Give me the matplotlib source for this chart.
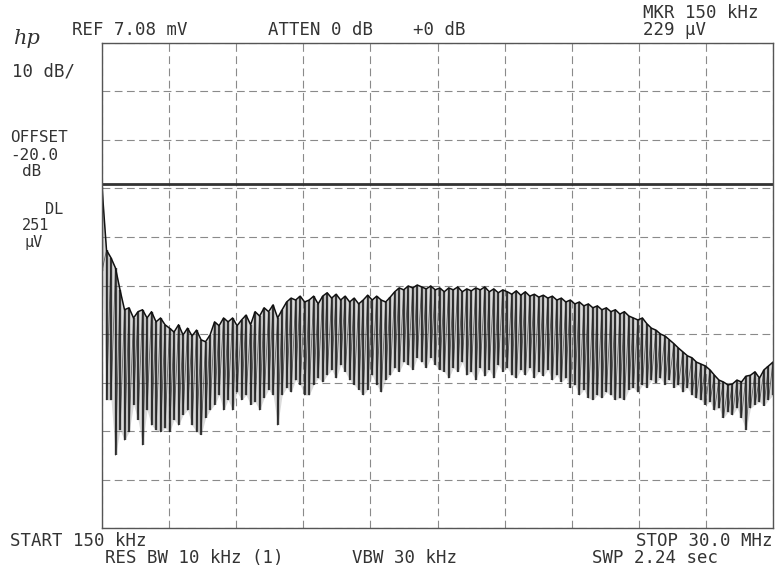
import numpy as np
import matplotlib
matplotlib.use("Agg")
import matplotlib.pyplot as plt

# sweep 150 kHz .. 30 MHz, 10 dB/div, ref 7.08 mV (77 dBuV)
f_start, f_stop = 0.15, 30.0
ref_level = 77.0
dl_level = 48.0  # 251 uV

# peak (top of each spike) and dip (bottom of each spike), dBuV
peak = [47.3, 34.3, 32.7, 30.6, 26.1, 22.0, 22.4, 20.3, 21.6, 22.0,
        20.3, 21.6, 19.5, 20.3, 18.9, 18.2, 17.4, 18.9, 16.8, 18.2,
        16.6, 17.8, 15.8, 15.4, 16.8, 19.5, 18.7, 20.3, 19.5, 20.3,
        18.7, 19.9, 20.9, 18.9, 21.6, 20.7, 22.4, 21.6, 23.0, 20.3,
        22.0, 23.6, 24.4, 24.0, 24.8, 23.6, 24.0, 24.8, 23.2, 24.8,
        25.5, 24.4, 25.2, 24.0, 24.8, 23.6, 24.4, 23.2, 24.0, 25.0,
        24.0, 24.8, 24.0, 23.6, 24.6, 25.7, 26.5, 26.1, 26.9, 26.5,
        27.1, 26.7, 26.3, 26.9, 26.1, 26.5, 25.7, 26.5, 26.1, 26.7,
        25.7, 26.3, 25.9, 26.5, 26.1, 26.7, 25.7, 26.3, 25.5, 26.1,
        25.7, 25.2, 25.9, 25.0, 25.7, 24.8, 25.2, 24.6, 25.0, 24.4,
        24.8, 24.0, 24.4, 23.6, 24.0, 23.2, 23.6, 22.8, 23.2, 22.4,
        22.8, 22.0, 22.4, 21.6, 22.0, 21.1, 21.6, 20.7, 20.3, 19.9,
        20.3, 19.1, 18.2, 17.8, 17.0, 16.6, 15.8, 15.0, 14.1, 13.3,
        12.5, 12.1, 11.2, 10.8, 10.4, 9.6, 8.5, 7.5, 7.1, 6.5,
        6.7, 7.5, 7.1, 8.3, 8.5, 9.2, 7.9, 9.6, 10.4, 11.2]

dip = [30.0, 3.4, 3.4, -8.0, -2.8, -4.9, -3.2, 2.4, -0.7, -5.9,
       1.3, -1.8, -2.8, -3.2, -2.4, -3.2, -0.7, -1.8, 0.3, 1.3,
       -1.8, -3.2, -3.8, -0.3, 1.3, 2.4, 4.4, 1.3, 3.4, 1.3,
       5.0, 3.4, 4.4, 2.4, 3.0, 1.3, 3.8, 5.5, 4.4, -1.8,
       4.4, 5.9, 5.0, 7.5, 6.5, 4.4, 4.4, 6.5, 7.9, 7.1,
       8.5, 9.6, 7.9, 10.6, 9.2, 7.5, 6.5, 5.5, 4.4, 5.5,
       8.5, 6.5, 5.0, 7.5, 8.5, 10.0, 9.2, 11.2, 10.6, 9.6,
       12.1, 11.2, 10.0, 12.1, 10.6, 9.6, 9.2, 7.9, 10.0, 9.2,
       11.2, 8.5, 9.2, 7.5, 10.0, 8.3, 9.6, 7.9, 10.6, 9.2,
       10.0, 8.5, 7.9, 9.6, 8.5, 10.0, 7.9, 9.2, 8.3, 9.6,
       7.5, 8.5, 7.1, 7.9, 5.9, 6.5, 4.4, 5.5, 3.8, 3.4,
       4.4, 3.8, 5.0, 4.4, 3.4, 3.8, 3.4, 5.5, 5.9, 5.0,
       6.5, 5.9, 7.5, 6.9, 7.9, 6.5, 7.5, 5.9, 6.5, 5.0,
       5.9, 4.4, 3.8, 3.4, 2.4, 3.0, 1.3, 1.7, -0.3, 0.9,
       0.3, 1.7, -0.3, -2.8, 1.7, 2.4, 3.0, 2.2, 3.4, 4.4]

freq = np.linspace(f_start, f_stop, len(peak))

top_left = ["REF 7.08 mV", "ATTEN 0 dB", "+0 dB"]
marker_txt = ["MKR 150 kHz", "229 \u00b5V"]
side_txt = ["10 dB/", "OFFSET", "-20.0", "dB", "DL", "251", "\u00b5V"]
bottom_txt = ["START 150 kHz", "STOP 30.0 MHz", "RES BW 10 kHz (1)", "VBW 30 kHz", "SWP 2.24 sec"]

W, H = 777, 571
fig = plt.figure(figsize=(W / 100, H / 100), dpi=100)
ax = fig.add_axes([102 / W, 1 - 528 / H, 671 / W, 485 / H])

# trace: light fill behind the spikes, then the spikes themselves
ax.fill_between(freq, dip, peak, color="#9a9a9a", alpha=0.35, lw=0)
xs = np.repeat(freq, 2)
ys = np.empty(2 * len(peak))
ys[0::2] = peak
ys[1::2] = dip
ax.plot(xs, ys, color="#444444", lw=0.6, alpha=0.8)
ax.vlines(freq, dip, peak, color="#1a1a1a", lw=1.7, alpha=0.8)
ax.plot(freq, peak, color="#111111", lw=1.1)

ax.axhline(dl_level, color="#333333", lw=2.0)

ax.set_xlim(f_start, f_stop)
ax.set_ylim(ref_level - 100, ref_level)
ax.set_xticks(np.linspace(f_start, f_stop, 11))
ax.set_yticks(np.arange(ref_level - 100, ref_level + 1, 10))
ax.grid(True, color="#8a8a8a", lw=0.8, ls=(0, (7, 4)))
ax.tick_params(length=0, labelbottom=False, labelleft=False)
for s in ax.spines.values():
    s.set_color("#555555")
    s.set_linewidth(1.0)

mono = dict(family="DejaVu Sans Mono", fontsize=12.5, color="#333333", va="center")


def put(x, y, s, **kw):
    fig.text(x / W, 1 - y / H, s, **{**mono, **kw})


fig.text(14 / W, 1 - 38 / H, "hp", family="DejaVu Serif", style="italic",
         fontsize=15, color="#333333", va="center")
put(72, 30, top_left[0])
put(268, 30, top_left[1])
put(413, 30, top_left[2])
put(643, 13, marker_txt[0])
put(643, 30, marker_txt[1])
put(12, 71, side_txt[0])
put(10, 137, side_txt[1], fontsize=11.5)
put(10, 155, side_txt[2], fontsize=11.5)
put(22, 172, side_txt[3], fontsize=11.5)
put(45, 209, side_txt[4], fontsize=11)
put(22, 225, side_txt[5], fontsize=11)
put(24, 243, side_txt[6], fontsize=11)
put(10, 541, bottom_txt[0])
put(773, 541, bottom_txt[1], ha="right")
put(105, 558, bottom_txt[2])
put(352, 558, bottom_txt[3])
put(592, 558, bottom_txt[4])

fig.savefig("out.png", dpi=100)
